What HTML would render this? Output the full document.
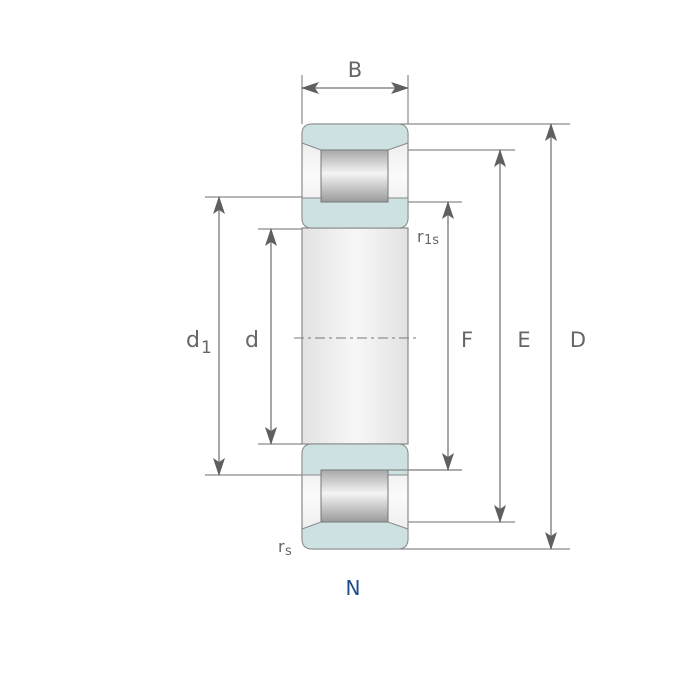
<!DOCTYPE html>
<html><head><meta charset="utf-8"><style>body{margin:0;background:#fff}svg{display:block}text{font-family:"DejaVu Sans","Liberation Sans",sans-serif;fill:#666}</style></head>
<body>
<svg width="700" height="700" viewBox="0 0 700 700" xmlns="http://www.w3.org/2000/svg">
<defs>
<linearGradient id="rol" x1="0" y1="0" x2="0" y2="1">
<stop offset="0" stop-color="#a8a8a8"/><stop offset="0.45" stop-color="#f4f4f4"/><stop offset="1" stop-color="#9a9a9a"/></linearGradient>
<linearGradient id="bore" x1="0" y1="0" x2="1" y2="0">
<stop offset="0" stop-color="#e2e2e2"/><stop offset="0.5" stop-color="#f7f7f7"/><stop offset="1" stop-color="#e2e2e2"/></linearGradient>
<linearGradient id="side" x1="0" y1="0" x2="0" y2="1">
<stop offset="0" stop-color="#e6e6e6"/><stop offset="0.5" stop-color="#fbfbfb"/><stop offset="1" stop-color="#e6e6e6"/></linearGradient>
<marker id="ah" viewBox="0 0 18 12" refX="17" refY="6" markerWidth="18" markerHeight="12" markerUnits="userSpaceOnUse" orient="auto-start-reverse">
<path d="M0,0 L18,6 L0,12 L4,6 Z" fill="#5f5f5f"/></marker>
</defs>
<g stroke="#8a8a8a" stroke-width="1.2" fill="none">
<line x1="302" y1="75" x2="302" y2="124"/><line x1="408" y1="75" x2="408" y2="124"/>
<line x1="400" y1="124" x2="570" y2="124"/>
<line x1="388" y1="150" x2="515" y2="150"/>
<line x1="388" y1="202" x2="462" y2="202"/>
<line x1="205" y1="197" x2="310" y2="197"/>
<line x1="258" y1="229" x2="302" y2="229"/>
<line x1="258" y1="444" x2="302" y2="444"/>
<line x1="205" y1="475" x2="310" y2="475"/>
<line x1="400" y1="470" x2="462" y2="470"/>
<line x1="388" y1="522" x2="515" y2="522"/>
<line x1="400" y1="549" x2="570" y2="549"/>
</g>
<rect x="302" y="228" width="106" height="216" fill="url(#bore)" stroke="#8a8a8a" stroke-width="1.2"/>
<rect x="302" y="124" width="106" height="104" rx="10" fill="url(#side)" stroke="#8a8a8a" stroke-width="1.2"/>
<rect x="302" y="444" width="106" height="105" rx="10" fill="url(#side)" stroke="#8a8a8a" stroke-width="1.2"/>
<path d="M312,124 H398 Q408,124 408,134 V143 L388,150 H321 L302,143 V134 Q302,124 312,124 Z" fill="#cde0e2" stroke="#8a8a8a" stroke-width="1"/>
<path d="M302,198 H408 V218 Q408,228 398,228 H312 Q302,228 302,218 Z" fill="#cde0e2" stroke="#8a8a8a" stroke-width="1"/>
<rect x="321" y="150" width="67" height="52" fill="url(#rol)" stroke="#777" stroke-width="1"/>
<path d="M312,444 H398 Q408,444 408,454 V475 H302 V454 Q302,444 312,444 Z" fill="#cde0e2" stroke="#8a8a8a" stroke-width="1"/>
<path d="M302,529 L321,522 H388 L408,529 V539 Q408,549 398,549 H312 Q302,549 302,539 Z" fill="#cde0e2" stroke="#8a8a8a" stroke-width="1"/>
<rect x="321" y="470" width="67" height="52" fill="url(#rol)" stroke="#777" stroke-width="1"/>
<line x1="388" y1="470" x2="462" y2="470" stroke="#8a8a8a" stroke-width="1.2"/>
<line x1="294" y1="338" x2="420" y2="338" stroke="#777" stroke-width="1" stroke-dasharray="10,4,3,4"/>
<g stroke="#8a8a8a" stroke-width="1.5" marker-start="url(#ah)" marker-end="url(#ah)">
<line x1="302" y1="88" x2="408" y2="88"/>
<line x1="219" y1="197" x2="219" y2="475"/>
<line x1="271" y1="229" x2="271" y2="444"/>
<line x1="448" y1="202" x2="448" y2="470"/>
<line x1="500" y1="150" x2="500" y2="522"/>
<line x1="551" y1="124" x2="551" y2="549"/>
</g>
<text x="355" y="77" font-size="21" text-anchor="middle">B</text>
<text x="186" y="347" font-size="22">d</text><text x="201" y="353" font-size="17">1</text>
<text x="252" y="347" font-size="22" text-anchor="middle">d</text>
<text x="467" y="347" font-size="21" text-anchor="middle">F</text>
<text x="524" y="347" font-size="21" text-anchor="middle">E</text>
<text x="578" y="347" font-size="21" text-anchor="middle">D</text>
<text x="417" y="242" font-size="16">r</text><text x="424" y="244" font-size="13">1s</text>
<text x="278" y="552" font-size="16">r</text><text x="285" y="555" font-size="13">s</text>
<text x="353" y="595" font-size="20" text-anchor="middle" style="fill:#1f4e8c">N</text>
</svg>
</body></html>
